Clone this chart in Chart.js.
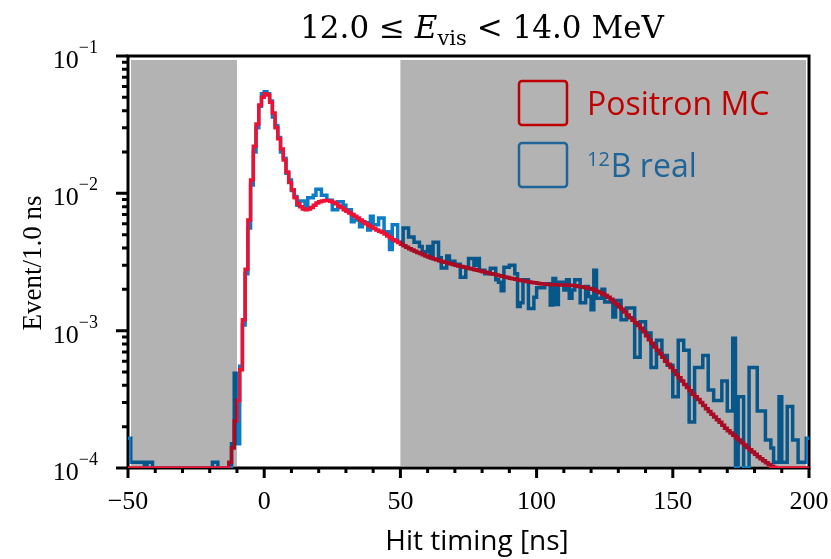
<!DOCTYPE html>
<html>
<head>
<meta charset="utf-8">
<title>Hit timing, 12.0 ≤ Evis &lt; 14.0 MeV</title>
<script src="https://cdn.jsdelivr.net/npm/chart.js@4.4.1/dist/chart.umd.min.js"></script>
<style>
  html, body { margin: 0; padding: 0; background: #fff; }
  #wrap { width: 831px; height: 559px; position: relative; }
</style>
</head>
<body>
<div id="wrap"><canvas id="chart"></canvas></div>
<script>
/* ---- data: 1 ns bins, first bin starts at -50 ns ---- */
const BIN_START = -50;   // ns, left edge of first bin
const BIN_WIDTH = 1;     // ns

// Positron MC, bins -50 ... 199 ns (0 = empty bin)
const positronMC = [
  0, 0, 0, 0, 0, 0, 0, 0, 0, 0,
  0, 0, 0, 0, 0, 0, 0, 0, 0, 0,
  0, 0, 0, 0, 0, 0, 0, 0, 0, 0,
  0, 0, 0, 0, 0, 0, 0, 1.1e-4, 1.4e-4, 2.2e-4,
  3.1e-4, 5.2e-4, 1.2e-3, 2.8e-3, 6.4e-3, 1.25e-2, 2.2e-2, 3.2e-2, 4.4e-2, 5.0e-2,
  5.3e-2, 5.2e-2, 4.6e-2, 3.85e-2, 3.0e-2, 2.5e-2, 2.1e-2, 1.75e-2, 1.43e-2, 1.2e-2,
  1.06e-2, 9.3e-3, 8.4e-3, 8.0e-3, 7.7e-3, 7.6e-3, 7.7e-3, 7.9e-3, 8.2e-3, 8.5e-3,
  8.7e-3, 8.8e-3, 8.85e-3, 8.85e-3, 8.75e-3, 8.6e-3, 8.4e-3, 8.1e-3, 7.9e-3, 7.6e-3,
  7.4e-3, 7.2e-3, 7.0e-3, 6.8e-3, 6.6e-3, 6.4e-3, 6.2e-3, 6.0e-3, 5.85e-3, 5.7e-3,
  5.55e-3, 5.4e-3, 5.3e-3, 5.2e-3, 5.05e-3, 4.9e-3, 4.75e-3, 4.6e-3, 4.5e-3, 4.38e-3,
  4.25e-3, 4.15e-3, 4.05e-3, 3.95e-3, 3.87e-3, 3.79e-3, 3.71e-3, 3.64e-3, 3.57e-3, 3.5e-3,
  3.44e-3, 3.38e-3, 3.33e-3, 3.28e-3, 3.23e-3, 3.19e-3, 3.15e-3, 3.11e-3, 3.07e-3, 3.03e-3,
  3.0e-3, 2.96e-3, 2.93e-3, 2.9e-3, 2.87e-3, 2.84e-3, 2.81e-3, 2.78e-3, 2.75e-3, 2.72e-3,
  2.69e-3, 2.66e-3, 2.63e-3, 2.6e-3, 2.57e-3, 2.54e-3, 2.51e-3, 2.49e-3, 2.46e-3, 2.44e-3,
  2.41e-3, 2.39e-3, 2.37e-3, 2.34e-3, 2.32e-3, 2.3e-3, 2.28e-3, 2.26e-3, 2.24e-3, 2.23e-3,
  2.21e-3, 2.2e-3, 2.19e-3, 2.18e-3, 2.17e-3, 2.16e-3, 2.16e-3, 2.16e-3, 2.15e-3, 2.15e-3,
  2.15e-3, 2.14e-3, 2.14e-3, 2.13e-3, 2.12e-3, 2.1e-3, 2.09e-3, 2.07e-3, 2.05e-3, 2.03e-3,
  2.0e-3, 1.97e-3, 1.93e-3, 1.89e-3, 1.85e-3, 1.8e-3, 1.75e-3, 1.69e-3, 1.62e-3, 1.56e-3,
  1.49e-3, 1.43e-3, 1.37e-3, 1.3e-3, 1.24e-3, 1.19e-3, 1.14e-3, 1.09e-3, 1.04e-3, 9.8e-4,
  9.2e-4, 8.6e-4, 8.1e-4, 7.6e-4, 7.2e-4, 6.8e-4, 6.4e-4, 6.0e-4, 5.7e-4, 5.4e-4,
  5.1e-4, 4.8e-4, 4.55e-4, 4.3e-4, 4.05e-4, 3.85e-4, 3.65e-4, 3.45e-4, 3.3e-4, 3.15e-4,
  3.0e-4, 2.85e-4, 2.7e-4, 2.58e-4, 2.46e-4, 2.35e-4, 2.25e-4, 2.15e-4, 2.05e-4, 1.95e-4,
  1.87e-4, 1.8e-4, 1.73e-4, 1.66e-4, 1.6e-4, 1.53e-4, 1.47e-4, 1.41e-4, 1.36e-4, 1.31e-4,
  1.26e-4, 1.21e-4, 1.17e-4, 1.13e-4, 1.09e-4, 1.06e-4, 1.03e-4, 1.01e-4, 0, 0,
  0, 0, 0, 0, 0, 0, 0, 0, 0, 0
];

// 12B real data, bins -50 ... 199 ns
const boron12Real = [
  1.65e-4, 1.1e-4, 1.1e-4, 1.1e-4, 1.1e-4, 1.1e-4, 0, 1.1e-4, 1.1e-4, 0,
  0, 0, 0, 0, 0, 0, 0, 0, 0, 0,
  0, 0, 0, 0, 0, 0, 0, 0, 0, 0,
  0, 1.1e-4, 1.1e-4, 0, 0, 0, 0, 0, 1.5e-4, 4.9e-4,
  1.5e-4, 5.5e-4, 1.1e-3, 2.6e-3, 5.6e-3, 1.15e-2, 2.0e-2, 3.0e-2, 4.3e-2, 5.3e-2,
  5.5e-2, 5.3e-2, 4.7e-2, 3.6e-2, 3.1e-2, 2.55e-2, 2.0e-2, 1.8e-2, 1.4e-2, 1.25e-2,
  1.05e-2, 9.5e-3, 8.2e-3, 8.8e-3, 8.8e-3, 8.0e-3, 9.3e-3, 9.3e-3, 9.7e-3, 1.07e-2,
  1.07e-2, 9.7e-3, 9.7e-3, 8.9e-3, 8.9e-3, 7.6e-3, 7.6e-3, 8.7e-3, 8.7e-3, 8.2e-3,
  7.6e-3, 7.6e-3, 6.2e-3, 6.4e-3, 6.4e-3, 5.7e-3, 6.1e-3, 6.1e-3, 5.4e-3, 6.8e-3,
  5.9e-3, 5.9e-3, 6.6e-3, 6.6e-3, 5.25e-3, 5.25e-3, 3.9e-3, 5.9e-3, 5.9e-3, 4.4e-3,
  4.4e-3, 5.6e-3, 5.6e-3, 4.8e-3, 4.8e-3, 4.4e-3, 4.4e-3, 4.1e-3, 3.7e-3, 3.75e-3,
  4.1e-3, 3.4e-3, 4.4e-3, 4.4e-3, 3.4e-3, 2.86e-3, 2.86e-3, 3.5e-3, 3.2e-3, 3.2e-3,
  3.05e-3, 3.05e-3, 2.45e-3, 2.45e-3, 2.9e-3, 3.35e-3, 3.35e-3, 3.0e-3, 3.35e-3, 2.75e-3,
  2.75e-3, 2.6e-3, 2.6e-3, 2.85e-3, 2.85e-3, 2.35e-3, 2.25e-3, 1.95e-3, 2.9e-3, 2.9e-3,
  3.0e-3, 3.0e-3, 2.6e-3, 1.5e-3, 1.6e-3, 2.35e-3, 2.35e-3, 1.45e-3, 1.45e-3, 1.75e-3,
  2.05e-3, 2.05e-3, 2.05e-3, 2.2e-3, 2.2e-3, 1.54e-3, 2.4e-3, 1.55e-3, 2.25e-3, 2.25e-3,
  1.98e-3, 2.35e-3, 1.72e-3, 1.98e-3, 2.35e-3, 2.35e-3, 1.6e-3, 1.6e-3, 2.1e-3, 1.77e-3,
  1.42e-3, 2.75e-3, 1.72e-3, 1.72e-3, 2.0e-3, 1.62e-3, 1.62e-3, 1.62e-3, 1.26e-3, 1.66e-3,
  1.66e-3, 1.2e-3, 1.2e-3, 1.46e-3, 1.46e-3, 1.46e-3, 6.4e-4, 6.4e-4, 1.16e-3, 1.16e-3,
  9.6e-4, 9.6e-4, 5.4e-4, 5.4e-4, 8.5e-4, 8.5e-4, 6.6e-4, 6.6e-4, 5.6e-4, 5.6e-4,
  3.3e-4, 3.3e-4, 8.5e-4, 8.5e-4, 7.2e-4, 7.2e-4, 2.16e-4, 2.16e-4, 5.4e-4, 5.4e-4,
  5.4e-4, 6.6e-4, 6.6e-4, 3.7e-4, 3.7e-4, 3.1e-4, 3.1e-4, 3.1e-4, 4.3e-4, 4.3e-4,
  2.6e-4, 2.6e-4, 8.8e-4, 0, 3.3e-4, 3.3e-4, 0, 0, 5.4e-4, 5.4e-4,
  5.4e-4, 2.6e-4, 2.6e-4, 2.6e-4, 1.6e-4, 1.6e-4, 1.4e-4, 1.1e-4, 1.1e-4, 3.3e-4,
  1.1e-4, 1.1e-4, 2.8e-4, 2.8e-4, 1.6e-4, 1.6e-4, 1.1e-4, 1.1e-4, 1.1e-4, 1.65e-4
];

// shaded (excluded) timing windows, ns
const shadedWindows = [[-50, -10], [50, 200]];

// axes
const X_MIN = -50, X_MAX = 200;
const Y_MIN = 1e-4, Y_MAX = 1e-1;
const xMajorTicks = [-50, 0, 50, 100, 150, 200];
const xTickLabels = ["\u221250", "0", "50", "100", "150", "200"];
const X_MINOR_STEP = 10;
const yMajorTicks = [1e-4, 1e-3, 1e-2, 1e-1];
const yTickExponents = ["\u22124", "\u22123", "\u22122", "\u22121"];
const yMinorMantissas = [2, 3, 4, 5, 6, 7, 8, 9];

const seriesLabels = ["Positron MC", "B real"];
const seriesSup = ["", "12"];

const RED = "#ee1133";
const BLUE = "#0b7cc5";
const LEGEND_RED = "#c00000";
const LEGEND_BLUE = "#1f6598";
const SHADE = "#b3b3b3";
const SERIF = '"Liberation Serif", "Times New Roman", serif';

/* ---- histogram -> step points (left edges + closing edge) ---- */
function toSteps(values) {
  const pts = values.map((v, i) => ({ x: BIN_START + i * BIN_WIDTH, y: Math.max(v, Y_MIN) }));
  const last = values.length - 1;
  pts.push({ x: BIN_START + values.length * BIN_WIDTH, y: Math.max(values[last], Y_MIN) });
  return pts;
}

/* ---- decorations: frame + ticks under the lines, shading over them, text last ---- */
const decor = {
  id: "decor",
  beforeDatasetsDraw(chart) {
    const { ctx, chartArea: a, scales: { x, y } } = chart;
    ctx.save();
    ctx.strokeStyle = "#000";
    ctx.lineWidth = 3;
    ctx.strokeRect(a.left, a.top, a.right - a.left, a.bottom - a.top);

    ctx.beginPath();
    for (let v = X_MIN; v <= X_MAX; v += X_MINOR_STEP) {
      const px = x.getPixelForValue(v);
      const len = xMajorTicks.includes(v) ? 10 : 5;
      ctx.moveTo(px, a.bottom);
      ctx.lineTo(px, a.bottom + len);
    }
    for (const dec of yMajorTicks) {
      const py = y.getPixelForValue(dec);
      ctx.moveTo(a.left - 12, py);
      ctx.lineTo(a.left, py);
      if (dec >= Y_MAX) continue;
      for (const m of yMinorMantissas) {
        const pm = y.getPixelForValue(m * dec);
        ctx.moveTo(a.left - 6, pm);
        ctx.lineTo(a.left, pm);
      }
    }
    ctx.stroke();
    ctx.restore();
  },
  afterDatasetsDraw(chart) {
    const { ctx, chartArea: a, scales: { x } } = chart;
    ctx.save();
    ctx.globalCompositeOperation = "multiply";
    ctx.fillStyle = SHADE;
    for (const [lo, hi] of shadedWindows) {
      let x0 = x.getPixelForValue(lo), x1 = x.getPixelForValue(hi);
      if (lo <= X_MIN) x0 += 3;
      if (hi >= X_MAX) x1 -= 3;
      ctx.fillRect(x0, a.top + 4, x1 - x0, a.bottom - a.top - 6);
    }
    ctx.restore();
  },
  afterDraw(chart) {
    const { ctx, chartArea: a, scales: { x, y } } = chart;
    ctx.save();
    ctx.fillStyle = "#000";

    // x tick labels
    ctx.font = "26px " + SERIF;
    ctx.textAlign = "center";
    ctx.textBaseline = "alphabetic";
    xMajorTicks.forEach((v, i) => {
      ctx.fillText(xTickLabels[i], x.getPixelForValue(v), a.bottom + 41);
    });

    // y tick labels: 10^exp
    yMajorTicks.forEach((v, i) => {
      const py = y.getPixelForValue(v);
      const right = a.left - 30;
      ctx.textAlign = "right";
      ctx.font = "18px " + SERIF;
      ctx.fillText(yTickExponents[i], right, py - 3);
      const w = ctx.measureText(yTickExponents[i]).width;
      ctx.font = "26px " + SERIF;
      ctx.fillText("10", right - w, py + 12);
    });

    // y axis title
    ctx.save();
    ctx.translate(34, 263);
    ctx.rotate(-Math.PI / 2);
    ctx.textAlign = "center";
    ctx.textBaseline = "middle";
    ctx.font = "27px " + SERIF;
    ctx.fillText("Event/1.0 ns", 0, 0);
    ctx.restore();

    // x axis title
    ctx.textAlign = "center";
    ctx.textBaseline = "alphabetic";
    ctx.font = '28px "Open Sans", sans-serif';
    ctx.fillText("Hit timing [ns]", 477, 550);

    // plot title: 12.0 <= E_vis < 14.0 MeV
    const fs = 31;
    const parts = [
      { t: "12.0 \u2264 ", f: `${fs}px "DejaVu Serif", serif`, dy: 0 },
      { t: "E", f: `italic ${fs}px "DejaVu Serif", serif`, dy: 0 },
      { t: "vis", f: `${Math.round(fs * 0.68)}px "DejaVu Serif", serif`, dy: 7 },
      { t: " < 14.0 MeV", f: `${fs}px "DejaVu Serif", serif`, dy: 0 }
    ];
    let total = 0;
    for (const p of parts) { ctx.font = p.f; p.w = ctx.measureText(p.t).width; total += p.w; }
    let cx = 482 - total / 2;
    ctx.textAlign = "left";
    for (const p of parts) { ctx.font = p.f; ctx.fillText(p.t, cx, 38 + p.dy); cx += p.w; }

    // legend
    const boxes = [
      { top: 81, color: LEGEND_RED },
      { top: 143, color: LEGEND_BLUE }
    ];
    ctx.lineWidth = 2.5;
    boxes.forEach((b, i) => {
      ctx.strokeStyle = b.color;
      ctx.beginPath();
      ctx.roundRect(519, b.top, 48, 44, 3);
      ctx.stroke();
      ctx.fillStyle = b.color;
      let tx = 587;
      const base = b.top + 34;
      if (seriesSup[i]) {
        ctx.font = '20px "Open Sans", sans-serif';
        ctx.fillText(seriesSup[i], tx, base - 11);
        tx += ctx.measureText(seriesSup[i]).width + 1;
      }
      ctx.font = '32px "Open Sans", sans-serif';
      ctx.fillText(seriesLabels[i], tx, base);
    });
    ctx.restore();
  }
};

new Chart(document.getElementById("chart"), {
  type: "line",
  data: {
    datasets: [
      {
        label: seriesLabels[0],
        data: toSteps(positronMC),
        borderColor: RED,
        borderWidth: 3.5,
        pointRadius: 0,
        stepped: true,
        order: 0
      },
      {
        label: seriesSup[1] + seriesLabels[1],
        data: toSteps(boron12Real),
        borderColor: BLUE,
        borderWidth: 3.5,
        pointRadius: 0,
        stepped: true,
        order: 1
      }
    ]
  },
  options: {
    responsive: true,
    maintainAspectRatio: false,
    animation: false,
    devicePixelRatio: 1,
    layout: { padding: { left: 128, right: 22, top: 56, bottom: 91 } },
    scales: {
      x: { type: "linear", min: X_MIN, max: X_MAX, display: false },
      y: { type: "logarithmic", min: Y_MIN, max: Y_MAX, display: false }
    },
    plugins: {
      legend: { display: false },
      tooltip: { enabled: false },
      title: { display: false }
    }
  },
  plugins: [decor]
});
</script>
</body>
</html>
